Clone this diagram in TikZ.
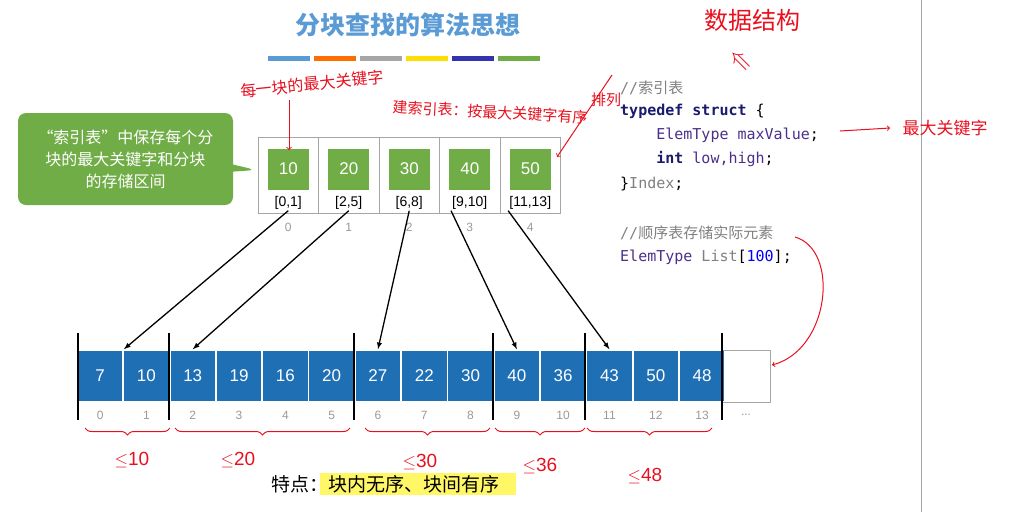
\documentclass[tikz,border=0pt]{standalone}
\usepackage{fontspec}
\setmainfont{Liberation Sans}
\setmonofont{DejaVu Sans Mono}
\newfontfamily\cjk{Noto Sans CJK SC}
\usetikzlibrary{decorations.pathreplacing,shapes.callouts}
\definecolor{tblue}{HTML}{5B9BD5}
\definecolor{gblock}{HTML}{70AD47}
\definecolor{ablue}{HTML}{1F6FB5}
\definecolor{navy}{HTML}{1A1A6E}
\definecolor{purp}{HTML}{4B2F8A}
\definecolor{hw}{HTML}{E8101E}
\tikzset{
 idxcell/.style={draw=gray!70,minimum width=60.5pt,minimum height=76pt,inner sep=0},
 gsq/.style={fill=gblock,minimum width=41pt,minimum height=41pt,text=white,font=\fontsize{17}{17}\selectfont,inner sep=0},
 acell/.style={fill=ablue,draw=white,line width=1.5pt,minimum width=46pt,minimum height=52pt,text=white,font=\fontsize{17}{17}\selectfont,inner sep=0},
 num/.style={text=gray!80,font=\fontsize{12}{12}\selectfont},
 sep/.style={line width=1.6pt},
 conn/.style={-latex,line width=1.3pt},
 code/.style={anchor=west,font=\ttfamily\fontsize{15}{15}\selectfont,inner sep=0},
 hand/.style={text=hw,font=\cjk\fontsize{17}{17}\selectfont},
 hline/.style={hw,line width=1pt},
}
\begin{document}
\begin{tikzpicture}[x=1pt,y=-1pt]
\useasboundingbox (0,0) rectangle (1015,512);
\node[text=tblue,font=\cjk\bfseries\fontsize{25}{25}\selectfont] (title) at (408,25) {分块查找的算法思想};
\foreach \c [count=\i] in {tblue,orange!85!red,gray!70,yellow!80!orange,blue!60!black!80,gblock}
  \fill[\c] (268+46*\i-46,56) rectangle ++(42,5);
% index table
\foreach \v/\r [count=\i] in {10/{[0,1]},20/{[2,5]},30/{[6,8]},40/{[9,10]},50/{[11,13]}}{
  \pgfmathsetmacro\cx{258+60.5*\i-30.25}
  \node[idxcell] (ic\i) at (\cx,175) {};
  \node[gsq] (g\i) at (\cx,169) {\v};
  \node[font=\fontsize{14}{14}\selectfont,inner sep=1pt] (r\i) at (\cx,203) {\r};
  \node[num] at (\cx,227) {\the\numexpr\i-1\relax};
}
% callout
\node[rectangle callout,rounded corners=8pt,fill=gblock,text=white,minimum width=215pt,minimum height=92pt,
  callout absolute pointer={(256,170)},align=center,font=\cjk\fontsize{16}{22}\selectfont] (call) at (125.5,159)
  {“索引表”中保存每个分\\块的最大关键字和分块\\的存储区间};
% array
\foreach \v [count=\i] in {7,10,13,19,16,20,27,22,30,40,36,43,50,48}{
  \pgfmathsetmacro\cx{77+46.3*\i-23.15}
  \node[acell] (a\i) at (\cx,376) {\v};
  \node[num] at (\cx,415) {\the\numexpr\i-1\relax};
}
\node[draw=gray!70,minimum width=48pt,minimum height=52pt,inner sep=0] (aend) at (746,376) {};
\node[num] at (746,415) {...};
\foreach \x in {78,169,354,493,585,722} \draw[sep] (\x,333) -- (\x,420);
\draw[conn] (r1.south) -- (a1.north east);
\draw[conn] (r2.south) -- (a3.north);
\draw[conn] (r3.south) -- (a7.north);
\draw[conn] (r4.south west) -- (a10.north);
\draw[conn] (r5.south west) -- (a12.north);
% bottom text
\fill[yellow!60] (320,473) rectangle (516,495);
\node[font=\cjk\fontsize{19}{19}\selectfont] (feat) at (385,484) {特点：块内无序、块间有序};
% code
\node[code,text=gray] at (620,88) {//\cjk 索引表};
\node[code] at (620,111) {\textcolor{navy}{\bfseries typedef struct} \{};
\node[code,text=purp] at (620,135) {\phantom{xxxx}ElemType maxValue\textcolor{black}{;}};
\node[code] (low) at (620,159) {\phantom{xxxx}\textcolor{navy}{\bfseries int} \textcolor{purp}{low,high};};
\node[code] at (620,184) {\}\textcolor{gray}{Index};};
\node[code,text=gray] (cmt) at (620,233) {//\cjk 顺序表存储实际元素};
\node[code] at (620,257) {\textcolor{purp}{ElemType} \textcolor{gray}{List}[\textcolor{blue}{100}];};
\draw[gray!70,line width=1pt] (921,0) -- (921,512);
% handwriting
\node[hand,rotate=6,font=\cjk\fontsize{16}{16}\selectfont] (h1) at (312,84) {每一块的最大关键字};
\draw[hline,->] (289,100) -- (289,150);
\node[hand,rotate=-3,font=\cjk\fontsize{15}{15}\selectfont] (h2) at (490,112) {建索引表：按最大关键字有序};
\node[hand,font=\cjk\fontsize{15}{15}\selectfont] (h2b) at (606,100) {排列};
\draw[hline,->] (612,75) -- (557,157);
\node[hand,font=\cjk\fontsize{24}{24}\selectfont] (h3) at (752,20) {数据结构};
\node[hand,font=\fontsize{28}{28}\selectfont,rotate=-45] at (740,62) {$\Leftarrow$};
\node[hand] (h4) at (945,128) {最大关键字};
\draw[hline,->] (840,131) -- (890,128);
\draw[hline,->] (795,237) .. controls (840,250) and (830,350) .. (772,365);
\foreach \a/\b/\t/\lx/\ly in {85/170/{$\le$10}/132/460,175/350/{$\le$20}/238/460,365/490/{$\le$30}/420/462,495/585/{$\le$36}/540/466,587/712/{$\le$48}/645/476}{
  \draw[hline,decorate,decoration={brace,mirror,amplitude=7pt}] (\a,428) -- (\b,428);
  \node[text=hw,font=\fontsize{19}{19}\selectfont] at (\lx,\ly) {\t};
}
\end{tikzpicture}
\end{document}
